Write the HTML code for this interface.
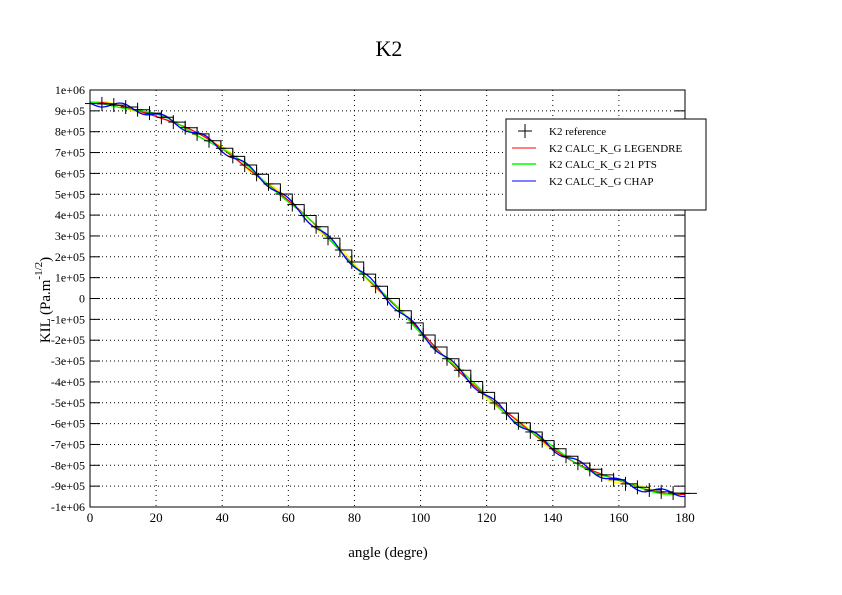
<!DOCTYPE html><html><head><style>body{margin:0;background:#fff}svg{display:block}text{font-family:"Liberation Serif",serif}</style></head><body>
<svg id="s" width="842" height="595" xmlns="http://www.w3.org/2000/svg">
<rect width="842" height="595" fill="#fff"/>
<text x="389" y="56" font-size="22" text-anchor="middle">K2</text>
<text x="388" y="557" font-size="15" text-anchor="middle">angle (degre)</text>
<text transform="translate(50,300) rotate(-90)" font-size="15" text-anchor="middle">KIL (Pa.m<tspan dy="-8" font-size="11">-1/2</tspan><tspan dy="8">)</tspan></text>
<g id="g"></g>
<rect x="90" y="90" width="595" height="417" fill="none" stroke="#000" stroke-width="1"/>
<rect x="506" y="119" width="200" height="91" fill="#fff" stroke="#000"/>
<line x1="518" y1="131" x2="532" y2="131" stroke="#000"/><line x1="525" y1="124" x2="525" y2="138" stroke="#000"/>
<line x1="512" y1="148" x2="536" y2="148" stroke="#f00"/>
<line x1="512" y1="164" x2="536" y2="164" stroke="#0f0" stroke-width="1.5"/>
<line x1="512" y1="181" x2="536" y2="181" stroke="#00f"/>
<g font-size="11"><text x="549" y="135">K2 reference</text><text x="549" y="152">K2 CALC_K_G LEGENDRE</text><text x="549" y="168">K2 CALC_K_G 21 PTS</text><text x="549" y="185">K2 CALC_K_G CHAP</text></g>
</svg>
<script>
var g=document.getElementById('g'),h='';
function X(t){return 90+t*595/180}function Y(v){return 298.5-v*208.5/1e6}
for(var i=-10;i<=10;i++){var y=Y(i*1e5);
 if(i>-10&&i<10)h+='<line x1="90" x2="685" y1="'+y+'" y2="'+y+'" stroke="#000" stroke-dasharray="1,3"/>';
 h+='<line x1="90" x2="100" y1="'+y+'" y2="'+y+'" stroke="#000"/><line x1="675" x2="685" y1="'+y+'" y2="'+y+'" stroke="#000"/>';
 var l=i==0?'0':(i==10?'1e+06':i==-10?'-1e+06':i+'e+05');
 if(i<0&&i>-10)l='-'+(-i)+'e+05';
 h+='<text x="85" y="'+(y+4)+'" font-size="12" text-anchor="end">'+l+'</text>';}
for(var t=0;t<=180;t+=20){var x=X(t);
 if(t>0&&t<180)h+='<line y1="90" y2="507" x1="'+x+'" x2="'+x+'" stroke="#000" stroke-dasharray="1,4"/>';
 h+='<text x="'+x+'" y="522" font-size="13" text-anchor="middle">'+t+'</text>';}
function f(t){return 9.35e5*Math.cos(t*Math.PI/180)}
var cols=[['#ff0',0.012,0.35],['#f00',0.006,0.2],['#0f0',0.008,0.27],['#00f',0.015,0.5]];
cols.forEach(function(c,k){var p='';for(var t=0;t<=180;t+=1){var v=f(t)+c[1]*1e6*Math.sin(t*c[2]+k);p+=(t?'L':'M')+X(t).toFixed(1)+','+Y(v).toFixed(1);}
 h+='<path d="'+p+'" fill="none" stroke="'+c[0]+'" stroke-width="1.3"/>';});
var p='',st=3.6;for(var t=0;t<180;t+=st){var v=f(t);p+=(t?'L':'M')+X(t).toFixed(1)+','+Y(v).toFixed(1)+'L'+X(t+st).toFixed(1)+','+Y(v).toFixed(1);
 h+='<line x1="'+(X(t)-5)+'" x2="'+(X(t)+5)+'" y1="'+Y(v)+'" y2="'+Y(v)+'" stroke="#000"/><line x1="'+X(t)+'" x2="'+X(t)+'" y1="'+(Y(v)-7)+'" y2="'+(Y(v)+7)+'" stroke="#000"/>';}
h+='<path d="'+p+'" fill="none" stroke="#000"/>';
g.innerHTML=h;
</script></body></html>
